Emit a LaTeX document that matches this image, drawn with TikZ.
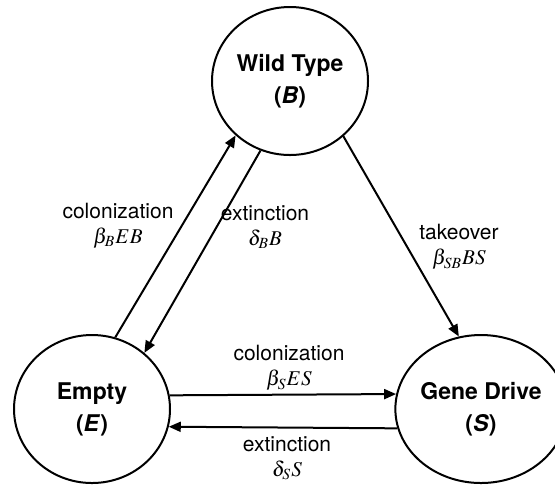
\documentclass[tikz,border=0pt]{standalone}
\usepackage{mathptmx}
\usepackage{fontspec}
\setmainfont{TeX Gyre Heros}
\usetikzlibrary{arrows.meta,shapes.geometric}

\tikzset{
	state/.style={ellipse, draw, line width=1pt, minimum width=78pt, minimum height=74pt,
		inner sep=0pt, align=center, font=\fontsize{11.5}{16}\selectfont\bfseries},
	rate/.style={align=center, inner sep=1pt, font=\fontsize{10.5}{12.5}\selectfont},
	flow/.style={-{Triangle[length=6pt,width=5pt]}, line width=1pt},
}

\begin{document}
\begin{tikzpicture}[x=0.5pt, y=-0.5pt]
	\useasboundingbox (0,0) rectangle (555,484);
	% states
	\node[state] (B) at (290,81) {Wild Type\\(\textit{B})};
	\node[state] (E) at (92,409) {Empty\\(\textit{E})};
	\node[state] (S) at (481,409) {Gene Drive\\(\textit{S})};
	% transitions
	\draw[flow] (E.72) -- (B.225);
	\draw[flow] (B.247) -- (E.47);
	\draw[flow] (B.-46) -- (S.107);
	\draw[flow] (E.10) -- (S.170);
	\draw[flow] (S.193) -- (E.-13);
	% rates
	\node[rate] (colEB) at (118,226) {colonization\\$\beta_B EB$};
	\node[rate] (extBE) at (265,227) {extinction\\$\delta_B B$};
	\node[rate] (takeBS) at (459,247) {takeover\\$\beta_{SB} BS$};
	\node[rate] (colES) at (289,368) {colonization\\$\beta_S ES$};
	\node[rate] (extSE) at (287,458) {extinction\\$\delta_S S$};
\end{tikzpicture}
\end{document}
